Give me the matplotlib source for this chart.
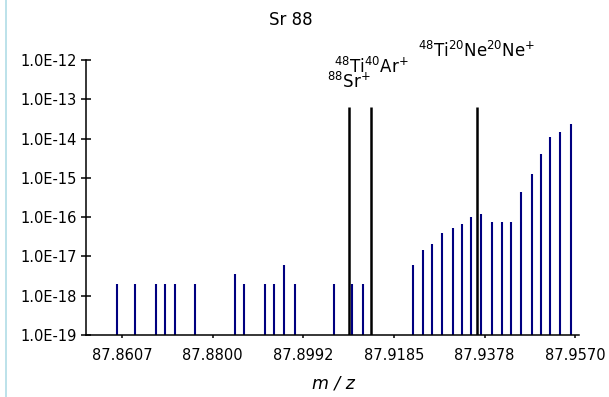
import matplotlib
matplotlib.use('Agg')
import matplotlib.pyplot as plt
from matplotlib.lines import Line2D

# background peaks (navy)
bg_mz = [87.8596, 87.8634, 87.8679, 87.8698, 87.8720, 87.8762, 87.8847, 87.8866,
         87.8911, 87.8930, 87.8951, 87.8974, 87.9057, 87.9097, 87.9119, 87.9225,
         87.9247, 87.9266, 87.9287, 87.9310, 87.9330, 87.9350, 87.9370, 87.9393,
         87.9414, 87.9433, 87.9455, 87.9478, 87.9498, 87.9518, 87.9538, 87.9561]
bg_int = [2.0e-18, 2.0e-18, 2.0e-18, 2.0e-18, 2.0e-18, 2.0e-18, 3.6e-18, 2.0e-18,
          2.0e-18, 2.0e-18, 5.9e-18, 2.0e-18, 2.0e-18, 2.0e-18, 2.0e-18, 5.9e-18,
          1.5e-17, 2.1e-17, 4.0e-17, 5.4e-17, 6.5e-17, 1.0e-16, 1.2e-16, 7.7e-17,
          7.7e-17, 7.7e-17, 4.3e-16, 1.26e-15, 4.0e-15, 1.07e-14, 1.5e-14, 2.4e-14]

# labelled species (black)
ion_mz = [87.9090, 87.9136, 87.9361]
ion_int = [6.2e-14, 6.2e-14, 6.2e-14]
ion_labels = [r'$^{88}$Sr$^{+}$', r'$^{48}$Ti$^{40}$Ar$^{+}$', r'$^{48}$Ti$^{20}$Ne$^{20}$Ne$^{+}$']
label_y = [1.94e-13, 4.7e-13, 1.2e-12]

xticks = [87.8607, 87.8800, 87.8992, 87.9185, 87.9378, 87.9570]
yticks = [1e-19, 1e-18, 1e-17, 1e-16, 1e-15, 1e-14, 1e-13, 1e-12]
ylabels = ['1.0E-19', '1.0E-18', '1.0E-17', '1.0E-16', '1.0E-15', '1.0E-14', '1.0E-13', '1.0E-12']

plt.rcParams['mathtext.default'] = 'regular'

fig = plt.figure(figsize=(6.09, 3.97), dpi=100)
ax = fig.add_axes([86/609, 62/397, 493/609, 275/397])

ax.vlines(bg_mz, 1e-19, bg_int, color='#000080', lw=1.5)
ax.vlines(ion_mz, 1e-19, ion_int, color='black', lw=1.8)

for x, y, lab in zip(ion_mz, label_y, ion_labels):
    ax.text(x, y, lab, ha='center', va='baseline', fontsize=12, clip_on=False)

ax.set_yscale('log')
ax.set_ylim(1e-19, 1e-12)
ax.set_xlim(87.85305, 87.95786)
ax.set_yticks(yticks)
ax.set_yticklabels(ylabels)
ax.minorticks_off()
ax.set_xticks(xticks)
ax.set_xticklabels(['%.4f' % v for v in xticks])

for s in ['top', 'right']:
    ax.spines[s].set_visible(False)
for s in ['left', 'bottom']:
    ax.spines[s].set_linewidth(1.1)
ax.tick_params(axis='y', direction='inout', length=7, width=1.1, labelsize=10.5, pad=3)
ax.tick_params(axis='x', direction='out', length=2, width=1.1, labelsize=10.5, pad=7)

fig.text(291/609, 1 - 20/397, 'Sr 88', ha='center', va='center', fontsize=12)
fig.text(333/609, 1 - 384/397, 'm / z', ha='center', va='center', fontsize=12.5, style='italic')

# thin light-blue rule on the left edge
fig.add_artist(Line2D([6/609, 6/609], [0, 1], color='#b0dde6', lw=1.2, transform=fig.transFigure))

fig.savefig('out.png', dpi=100)
